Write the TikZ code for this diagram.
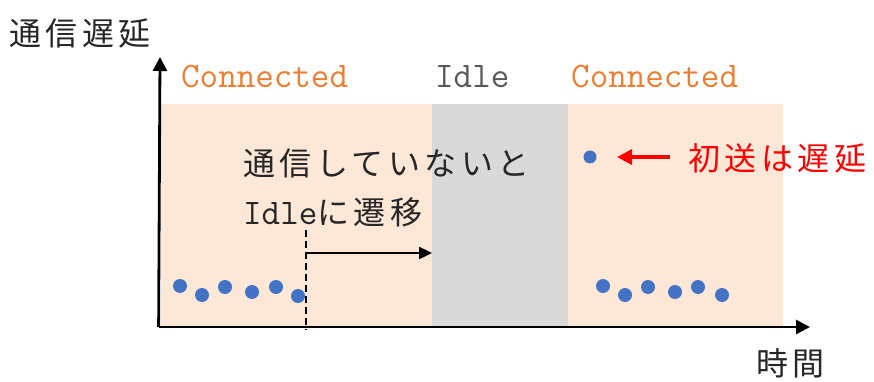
\documentclass[tikz,border=0pt]{standalone}
\usepackage{fontspec}
\newfontfamily\jpfont[LetterSpace=14]{Noto Sans CJK JP}
\usetikzlibrary{arrows.meta}
\definecolor{peach}{HTML}{FDE8D7}
\definecolor{idlegray}{HTML}{D9D9D9}
\definecolor{conncol}{HTML}{ED7D31}
\definecolor{idletext}{HTML}{595959}
\definecolor{dotblue}{HTML}{4472C4}
\definecolor{txt}{HTML}{262626}
\newcommand\jpsize{\jpfont\fontsize{32}{40}\selectfont}
\newcommand\ttsize{\ttfamily\fontsize{36}{40}\selectfont}
\begin{document}
\begin{tikzpicture}[x=1pt,y=-1pt,
  axis/.style={line width=2.8pt,-{Triangle[length=14pt,width=14pt]}},
  jp/.style={font=\jpsize,text=txt,inner sep=0pt},
  state/.style={font=\ttsize,inner sep=0pt},
  pt/.style={circle,fill=dotblue,inner sep=0pt,minimum size=14pt}]
\useasboundingbox (0,0) rectangle (874,382);
% state bands
\fill[peach] (161,104) rectangle (432,327);
\fill[idlegray] (432,104) rectangle (568,327);
\fill[peach] (568,104) rectangle (783,327);
% axes
\coordinate (o) at (160,327);
\coordinate (ytip) at (160,57);
\coordinate (xtip) at (810,327);
\draw[axis] ([xshift=-1.4pt]o) -- (ytip);
\draw[axis] ([xshift=-1.4pt]o) -- (xtip);
% axis labels
\node[jp,anchor=west] (ylab) at (9,33) {通信遅延};
\node[jp,anchor=west] (xlab) at (756,363) {時間};
% state labels
\node[state,text=conncol,anchor=west] (c1) at (181,77) {Connected};
\node[state,text=idletext,anchor=west] (idle) at (435,77) {Idle};
\node[state,text=conncol,anchor=west] (c2) at (571,77) {Connected};
% annotation
\node[jp,anchor=west] (note) at (243,163) {通信していないと};
\node[jp,anchor=west] (note2) at (243,212) {{\ttsize Idle}に遷移};
% idle timeout
\coordinate (dtop) at (306,230);
\coordinate (dbot) at (306,330);
\draw[line width=2pt,dash pattern=on 7pt off 4pt] (dtop) -- (dbot);
\coordinate (astart) at (306,253);
\coordinate (aend) at (432,253);
\draw[line width=2.4pt,-{Triangle[length=13pt,width=12pt]}] (astart) -- (aend);
% latency samples
\foreach \n/\x/\y in {a1/180/286,a2/202/295,a3/225/287,a4/252/292,a5/276/287,a6/298/296,
                      b1/603/286,b2/625/295,b3/648/287,b4/675/292,b5/698/287,b6/722/295}
  \node[pt] (\n) at (\x,\y) {};
\node[pt,minimum size=13pt] (first) at (590,157) {};
% first transmission note
\node[jp,text=red,anchor=west] (delay) at (688,158) {初送は遅延};
\coordinate (rtail) at (670,157);
\draw[red,line width=3.4pt,-{Triangle[length=15pt,width=15pt]}] (rtail) -- (617,157);
\end{tikzpicture}
\end{document}
